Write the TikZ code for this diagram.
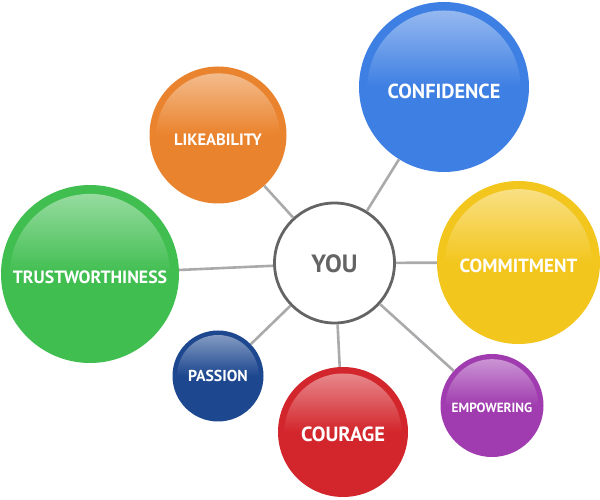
\documentclass[tikz,border=0pt]{standalone}
\usepackage{fontspec}
\setmainfont{PT Sans}

\definecolor{youGray}{RGB}{100,100,100}
\definecolor{linkGray}{RGB}{170,170,172}
\definecolor{likeOrange}{RGB}{234,131,45}
\definecolor{confBlue}{RGB}{62,127,227}
\definecolor{trustGreen}{RGB}{64,190,80}
\definecolor{commitYellow}{RGB}{243,198,30}
\definecolor{passionBlue}{RGB}{29,71,143}
\definecolor{courageRed}{RGB}{211,38,44}
\definecolor{empowerPurple}{RGB}{160,60,175}

\newcommand*{\bubfont}[1]{\bfseries\fontsize{#1}{#1}\selectfont}

\begin{document}
\begin{tikzpicture}
[
	x=1pt, y=1pt,
	bubble/.style 2 args={circle,fill=#1,inner sep=0pt,minimum size=#2pt,text=white,
		path picture={\shade[top color=#1!50!white,bottom color=#1,middle color=#1]
			(path picture bounding box.center) circle[radius=0.45*#2pt];}},
	link/.style={draw=linkGray,line width=2.6pt}
]

	\useasboundingbox (0,0) rectangle (600,500);

	% centre
	\node[circle,draw=youGray,line width=2.8pt,fill=white,minimum size=120pt,inner sep=0pt,
		text=youGray,font=\bubfont{25},text height=19.5pt] at (334.5,237) (you) {YOU};

	% bubbles
	\node[bubble={likeOrange}{137},font=\bubfont{16.5},text height=21.6pt] at (218,365) (like) {LIKEABILITY};
	\node[bubble={confBlue}{170},font=\bubfont{20.3},text height=24pt] at (444,413) (conf) {CONFIDENCE};
	\node[bubble={trustGreen}{178},font=\bubfont{17.8},text height=18.6pt] at (90,226) (trust) {TRUSTWORTHINESS};
	\node[bubble={commitYellow}{163},font=\bubfont{19},text height=20.3pt] at (518.5,237.5) (commit) {COMMITMENT};
	\node[bubble={passionBlue}{91},font=\bubfont{15.8}] at (218,124) (passion) {PASSION};
	\node[bubble={courageRed}{130},font=\bubfont{20.5},text height=19pt] at (343,68) (courage) {COURAGE};
	\node[bubble={empowerPurple}{103},font=\bubfont{13.3},text height=13.5pt] at (492,94.5) (empower) {EMPOWERING};

	% links
	\draw[link] (you) -- (like);
	\draw[link] (you) -- (conf);
	\draw[link] (you) -- (trust);
	\draw[link] (you) -- (commit);
	\draw[link] (you) -- (passion);
	\draw[link] (you) -- (courage);
	\draw[link] (you) -- (empower);

\end{tikzpicture}
\end{document}
